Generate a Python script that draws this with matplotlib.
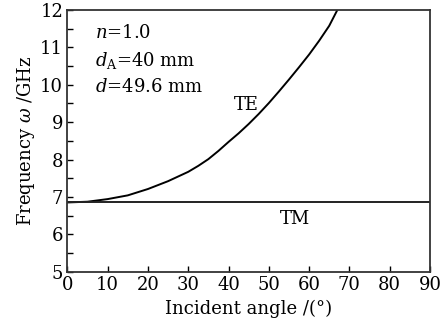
import matplotlib
matplotlib.use('Agg')
import matplotlib.pyplot as plt
from matplotlib.ticker import MultipleLocator

# values
angle_te = [0, 5, 10, 15, 20, 25, 30, 32.5, 35, 37.5, 40, 42.5, 45, 47.5, 50,
            52.5, 55, 57.5, 60, 62.5, 65, 67]
freq_te = [6.85, 6.87, 6.94, 7.04, 7.21, 7.42, 7.67, 7.83, 8.01, 8.23, 8.47, 8.70,
           8.95, 9.22, 9.51, 9.82, 10.14, 10.47, 10.81, 11.18, 11.58, 12.0]
angle_tm = [0, 90]
freq_tm = [6.85, 6.85]

plt.rcParams['font.family'] = ['DejaVu Serif']
plt.rcParams['mathtext.fontset'] = 'dejavuserif'

fig = plt.figure(figsize=(4.46, 3.26), dpi=100)
ax = fig.add_axes([0.151, 0.167, 0.813, 0.802])

ax.plot(angle_te, freq_te, color='black', lw=1.4)
ax.plot(angle_tm, freq_tm, color='#222222', lw=1.4)

ax.set_xlim(0, 90)
ax.set_ylim(5, 12)
ax.xaxis.set_major_locator(MultipleLocator(10))
ax.yaxis.set_major_locator(MultipleLocator(1))
ax.yaxis.set_minor_locator(MultipleLocator(0.5))
ax.tick_params(direction='in', length=4, width=1, labelsize=13, pad=3)
ax.tick_params(axis='y', which='minor', direction='in', length=4, width=1)
for s in ax.spines.values():
    s.set_linewidth(1.3)
    s.set_color('#333333')

ax.set_xlabel('Incident angle /(°)', fontsize=13, labelpad=4)
ax.set_ylabel(r'Frequency $\omega$ /GHz', fontsize=13, labelpad=2)

ax.text(6.9, 11.38, r'$n$=1.0', fontsize=13, va='center')
ax.text(6.9, 10.66, r'$d_{\rm A}$=40 mm', fontsize=13, va='center')
ax.text(6.9, 9.94, r'$d$=49.6 mm', fontsize=13, va='center')
ax.text(44.4, 9.46, 'TE', fontsize=13, ha='center', va='center')
ax.text(56.6, 6.40, 'TM', fontsize=13, ha='center', va='center')

fig.savefig('out.png', dpi=100, facecolor='white')
